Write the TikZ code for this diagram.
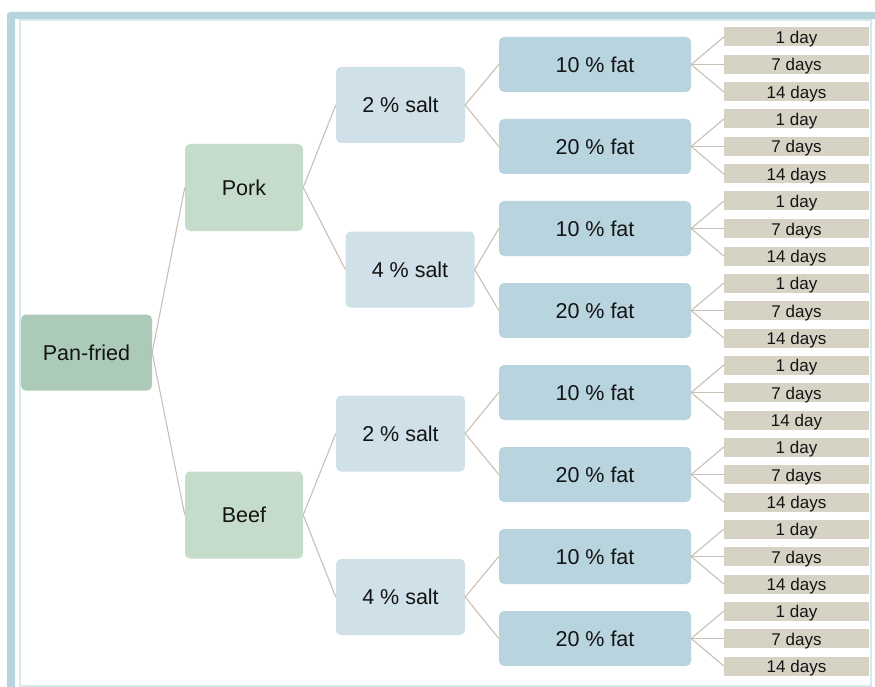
\documentclass[tikz,border=0pt]{standalone}
\usepackage{fontspec}
\setmainfont{Liberation Sans}
\definecolor{framebar}{HTML}{B7D3DC}
\definecolor{frameline}{HTML}{D8E9EE}
\definecolor{rootfill}{HTML}{ABCAB8}
\definecolor{meatfill}{HTML}{C5DCCA}
\definecolor{saltfill}{HTML}{CFE0E8}
\definecolor{fatfill}{HTML}{B8D4DE}
\definecolor{leaffill}{HTML}{D6D3C4}
\definecolor{linkcol}{HTML}{C9C1B6}
\definecolor{txt}{HTML}{141414}
\begin{document}
\begin{tikzpicture}[x=1pt,y=-1pt,
  basebox/.style={rectangle, rounded corners=5pt, inner sep=0pt, text=txt,
    font=\fontsize{21.5}{24}\selectfont},
  rootbox/.style={basebox, fill=rootfill, minimum width=131pt, minimum height=76pt},
  meatbox/.style={basebox, fill=meatfill, minimum width=118pt, minimum height=87pt},
  saltbox/.style={basebox, fill=saltfill, minimum width=129pt, minimum height=76pt},
  fatbox/.style={basebox, fill=fatfill, minimum width=192pt, minimum height=55pt},
  leafbox/.style={rectangle, inner sep=0pt, fill=leaffill, text=txt,
    minimum width=145pt, minimum height=19pt, text height=14pt, text depth=1pt,
    font=\fontsize{17}{19}\selectfont},
  link/.style={draw=linkcol, line width=1.1pt}]
\useasboundingbox (0,0) rectangle (875,687);
\fill[white] (0,0) rectangle (875,687);
% page frame: thick bars on top and left, thin inner outline
\draw[frameline, line width=1.6pt] (20,20) rectangle (871,686);
\fill[framebar] (7,687) [rounded corners=3pt] -- (7,12) [sharp corners] -- (875,12)
  -- (875,19) -- (15,19) -- (15,687) -- cycle;

% tree levels
\node[rootbox] (root) at (86.5,352.5) {Pan-fried};
\node[meatbox] (pork) at (244,187.5) {Pork};
\node[meatbox] (beef) at (244,515) {Beef};
\node[saltbox] (s1) at (400.5,105) {2 \% salt};
\node[saltbox] (s2) at (410,269.5) {4 \% salt};
\node[saltbox] (s3) at (400.5,433.5) {2 \% salt};
\node[saltbox] (s4) at (400.5,597) {4 \% salt};
\foreach \i/\c/\t in {1/64.5/10,2/146.5/20,3/228.5/10,4/310.5/20,
                      5/392.5/10,6/474.5/20,7/556.5/10,8/638.5/20}
  \node[fatbox] (f\i) at (595,\c) {\t\ \% fat};

% storage days
\foreach \i/\c/\t in {1/64.5/14 days,2/146.5/14 days,3/228.5/14 days,4/310.5/14 days,
                      5/392.5/14 day,6/474.5/14 days,7/556.5/14 days,8/638.5/14 days}{
  \node[leafbox] (l\i a) at (796.5,{\c-27.5}) {1 day};
  \node[leafbox] (l\i b) at (796.5,\c) {7 days};
  \node[leafbox] (l\i c) at (796.5,{\c+27.5}) {\t};
  \draw[link] (f\i.east) -- (l\i a.west);
  \draw[link] (f\i.east) -- (l\i b.west);
  \draw[link] (f\i.east) -- (l\i c.west);
}

% connectors
\draw[link] (root.east) -- (pork.west);
\draw[link] (root.east) -- (beef.west);
\draw[link] (pork.east) -- (s1.west);
\draw[link] (pork.east) -- (s2.west);
\draw[link] (beef.east) -- (s3.west);
\draw[link] (beef.east) -- (s4.west);
\draw[link] (s1.east) -- (f1.west);
\draw[link] (s1.east) -- (f2.west);
\draw[link] (s2.east) -- (f3.west);
\draw[link] (s2.east) -- (f4.west);
\draw[link] (s3.east) -- (f5.west);
\draw[link] (s3.east) -- (f6.west);
\draw[link] (s4.east) -- (f7.west);
\draw[link] (s4.east) -- (f8.west);
\end{tikzpicture}
\end{document}
